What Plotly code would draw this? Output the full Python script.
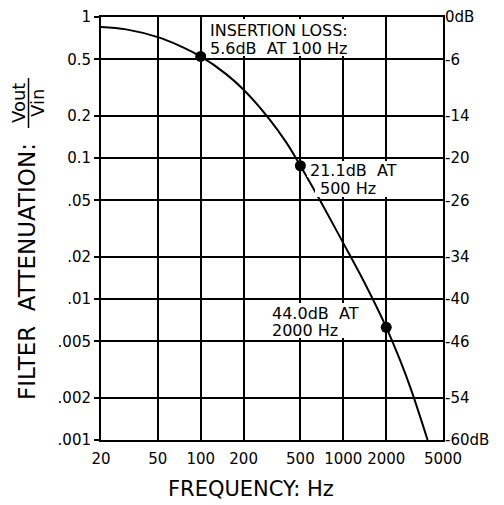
import math
import plotly.graph_objects as go

# ---- data ----
freq_hz = [20, 30, 50, 70, 100, 150, 200, 300, 400, 500, 700, 1000, 1400, 2000, 2500, 3000, 3900]
ratio = [0.85, 0.817, 0.72, 0.63, 0.525, 0.395, 0.305, 0.191, 0.128, 0.0881, 0.0483,
         0.0249, 0.0132, 0.0063, 0.00368, 0.00225, 0.001]

marked_freq = [100, 500, 2000]
marked_ratio = [0.525, 0.0881, 0.0063]

x_ticks = [20, 50, 100, 200, 500, 1000, 2000, 5000]
x_ticklabels = ["20", "50", "100", "200", "500", "1000", "2000", "5000"]
y_ticks = [1, 0.5, 0.2, 0.1, 0.05, 0.02, 0.01, 0.005, 0.002, 0.001]
y_ticklabels = ["1", "0.5", "0.2", "0.1", ".05", ".02", ".01", ".005", ".002", ".001"]
db_ticklabels = ["0dB", "-6", "-14", "-20", "-26", "-34", "-40", "-46", "-54", "-60dB"]

FONT = "DejaVu Sans"
NB = "\u00a0"

# page has an 8px body margin: figure coords = screen coords - 8
OFF = 8
# plot-area in screen pixels
SL, SR, ST, SB = 101, 443, 17, 440
L, R, T, B = SL - OFF, SR - OFF, ST - OFF, SB - OFF
W, H = 504, 505

XLO, XHI = math.log10(x_ticks[0]), math.log10(x_ticks[-1])
YLO, YHI = math.log10(y_ticks[-1]), math.log10(y_ticks[0])


def px(x):
    return (x - SL) / (SR - SL)


def py(y):
    return (SB - y) / (SB - ST)


fig = go.Figure()
fig.add_trace(go.Scatter(x=freq_hz, y=ratio, mode="lines",
                         line=dict(color="black", width=2, shape="spline", smoothing=1.0),
                         hoverinfo="skip", showlegend=False))
fig.add_trace(go.Scatter(x=marked_freq, y=marked_ratio, mode="markers",
                         marker=dict(color="black", size=11),
                         showlegend=False))
fig.add_trace(go.Scatter(x=marked_freq, y=marked_ratio, mode="markers",
                         marker=dict(color="rgba(0,0,0,0)", size=1),
                         yaxis="y2", showlegend=False, hoverinfo="skip"))

shapes = []
annotations = []

# white boxes hiding the grid behind the notes (kept clear of the curve)
for (x0, y0, x1, y1) in [(206, 19, 366, 56),
                         (307, 161, 412, 177), (315, 177, 412, 197),
                         (265, 303, 370, 338)]:
    shapes.append(dict(type="rect", xref="paper", yref="paper",
                       x0=px(x0), x1=px(x1), y0=py(y1), y1=py(y0),
                       fillcolor="white", line=dict(width=0), layer="above"))

notes = [
    ("INSERTION LOSS:", 208, 30),
    ("5.6dB" + NB + " AT 100 Hz", 208, 48),
    ("21.1dB" + NB + " AT", 308, 170),
    ("500 Hz", 318, 188),
    ("44.0dB" + NB + " AT", 270, 313),
    ("2000 Hz", 270, 330),
]
for text, x, y in notes:
    annotations.append(dict(text=text, xref="paper", yref="paper", x=px(x), y=py(y),
                            xanchor="left", yanchor="middle", showarrow=False,
                            font=dict(family=FONT, size=16, color="black")))

# axis titles
annotations.append(dict(text="FREQUENCY: Hz", xref="paper", yref="paper",
                        x=px(251), y=py(489), xanchor="center", yanchor="middle",
                        showarrow=False, font=dict(family=FONT, size=21, color="black")))
annotations.append(dict(text="FILTER  ATTENUATION:", xref="paper", yref="paper",
                        x=px(27), y=py(272), xanchor="center", yanchor="middle",
                        textangle=-90, showarrow=False,
                        font=dict(family=FONT, size=23, color="black")))
annotations.append(dict(text="Vout", xref="paper", yref="paper",
                        x=px(19), y=py(103), xanchor="center", yanchor="middle",
                        textangle=-90, showarrow=False,
                        font=dict(family=FONT, size=18, color="black")))
annotations.append(dict(text="Vin", xref="paper", yref="paper",
                        x=px(38), y=py(103), xanchor="center", yanchor="middle",
                        textangle=-90, showarrow=False,
                        font=dict(family=FONT, size=18, color="black")))
shapes.append(dict(type="line", xref="paper", yref="paper",
                   x0=px(28.5), x1=px(28.5), y0=py(128), y1=py(78),
                   line=dict(color="black", width=1.5), layer="above"))

fig.update_layout(
    width=W, height=H,
    margin=dict(l=L, r=W - R, t=T, b=H - B, autoexpand=False),
    paper_bgcolor="white", plot_bgcolor="white",
    showlegend=False,
    font=dict(family=FONT, color="black"),
    xaxis=dict(type="log", range=[XLO, XHI],
               tickvals=x_ticks, ticktext=x_ticklabels,
               tickfont=dict(family=FONT, size=15, color="black"),
               ticks="", ticklabelstandoff=4,
               showgrid=True, gridcolor="black", gridwidth=1.6,
               showline=True, linecolor="black", linewidth=2, mirror=True,
               zeroline=False, fixedrange=True),
    yaxis=dict(type="log", range=[YLO, YHI],
               tickvals=y_ticks, ticktext=y_ticklabels,
               tickfont=dict(family=FONT, size=15, color="black"),
               ticks="outside", ticklen=5, tickwidth=2, tickcolor="black",
               showgrid=True, gridcolor="black", gridwidth=2,
               showline=True, linecolor="black", linewidth=2, mirror=True,
               zeroline=False, fixedrange=True),
    yaxis2=dict(type="log", range=[YLO, YHI], overlaying="y", side="right",
                tickvals=y_ticks, ticktext=db_ticklabels,
                tickfont=dict(family=FONT, size=15, color="black"),
                ticks="", ticklabelstandoff=1,
                showgrid=False, zeroline=False, showline=False, fixedrange=True),
    shapes=shapes,
    annotations=annotations,
)

fig.write_html("out.html")
